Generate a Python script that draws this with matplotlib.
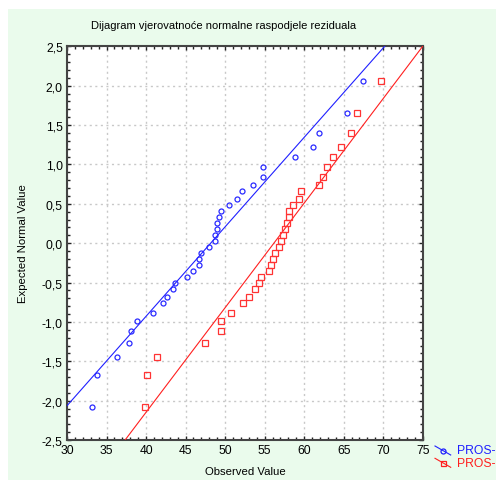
import matplotlib
matplotlib.use("Agg")
import matplotlib.pyplot as plt
from matplotlib.lines import Line2D
from matplotlib.patches import Rectangle
from matplotlib.ticker import MultipleLocator, FuncFormatter

plt.rcParams['font.family'] = ['Liberation Sans', 'DejaVu Sans']

title = "Dijagram vjerovatnoće normalne raspodjele reziduala"
xlabel = "Observed Value"
ylabel = "Expected Normal Value"
series_names = ["PROS-IS", "PROS-IS"]

expected = [-2.08, -1.67, -1.44, -1.27, -1.11, -0.99, -0.89, -0.76, -0.69, -0.58,
            -0.50, -0.43, -0.36, -0.28, -0.20, -0.13, -0.05, 0.03, 0.10, 0.18,
            0.26, 0.33, 0.41, 0.49, 0.56, 0.66, 0.74, 0.84, 0.97, 1.10,
            1.22, 1.40, 1.65, 2.06]

blue_obs = [33.2, 33.8, 36.3, 37.86, 38.07, 38.8, 40.9, 42.2, 42.7, 43.4,
            43.7, 45.2, 46.0, 46.7, 46.7, 47.0, 48.0, 48.76, 48.76, 49.0,
            49.0, 49.25, 49.5, 50.45, 51.46, 52.2, 53.5, 54.8, 54.8, 58.86,
            61.1, 61.9, 65.45, 67.5]

red_obs = [39.9, 40.14, 41.4, 47.45, 49.5, 49.5, 50.75, 52.27, 53.0, 53.8,
           54.3, 54.55, 55.57, 55.8, 56.07, 56.33, 56.83, 57.09, 57.34, 57.6,
           57.85, 58.1, 58.1, 58.6, 59.4, 59.6, 61.9, 62.4, 62.9, 63.7,
           64.7, 65.96, 66.7, 69.76]

# fitted lines: y = intercept + slope * x
blue_fit = (-2.065 - 0.1136 * 30, 0.1136)
red_fit = (-2.5 - 0.1328 * 37.35, 0.1328)

W, H = 496, 481
fig = plt.figure(figsize=(W / 100, H / 100), dpi=100)
fig.patch.set_facecolor('white')
fig.add_artist(Rectangle((8 / W, 0), 1, 1 - 10 / H, transform=fig.transFigure,
                         facecolor='#EAFBEC', edgecolor='none', zorder=-10))

ax = fig.add_axes([67 / W, 1 - 441 / H, (422.7 - 67) / W, (441 - 47.3) / H])
ax.set_xlim(30, 75)
ax.set_ylim(-2.5, 2.5)
ax.set_facecolor('white')

ax.xaxis.set_major_locator(MultipleLocator(5))
ax.xaxis.set_minor_locator(MultipleLocator(1))
ax.yaxis.set_major_locator(MultipleLocator(0.5))
ax.yaxis.set_minor_locator(MultipleLocator(0.1))
fmt = FuncFormatter(lambda v, p: ("%.1f" % v).replace('.', ',').replace('-0,0', '0,0'))
ax.yaxis.set_major_formatter(fmt)
ax.xaxis.set_major_formatter(FuncFormatter(lambda v, p: "%d" % v))

ax.tick_params(which='both', direction='in', top=True, right=True, labelsize=8.7,
               color='#222222', width=1.0, pad=3)
ax.tick_params(which='major', length=3)
ax.tick_params(which='minor', length=2.5)
for s in ax.spines.values():
    s.set_color('#444444')
    s.set_linewidth(1.5)

ax.grid(True, which='major', linestyle=(0, (1.5, 2.5)), color='#c8c8c8', linewidth=1.0)
ax.set_axisbelow(True)

xs = [30, 75]
ax.plot(xs, [blue_fit[0] + blue_fit[1] * x for x in xs], color='#1f1fff', lw=0.8, zorder=3)
ax.plot(xs, [red_fit[0] + red_fit[1] * x for x in xs], color='#ff1f1f', lw=0.8, zorder=3)
ax.plot(blue_obs, expected, linestyle='none', marker='o', ms=3.6, mfc='none',
        mec='#2a2aff', mew=0.9, zorder=4)
ax.plot(red_obs, expected, linestyle='none', marker='s', ms=4.0, mfc='none',
        mec='#ff3333', mew=0.9, zorder=4)

fig.text(223.5 / W, 1 - 26 / H, title, ha='center', va='center', fontsize=8.0)
fig.text(245 / W, 1 - 472 / H, xlabel, ha='center', va='center', fontsize=8.2)
fig.text(23 / W, 1 - 244 / H, ylabel, ha='center', va='center', fontsize=8.2, rotation=90)

# legend drawn manually
def leg(y0, color, marker, label):
    x0, x1 = 435, 450.7
    fig.add_artist(Line2D([x0 / W, (x0 + x1) / 2 / W, x1 / W],
                          [1 - (y0 - 4.5) / H, 1 - y0 / H, 1 - (y0 + 4.5) / H],
                          transform=fig.transFigure, color=color, lw=0.8,
                          marker=marker, markevery=[1], ms=3.6, mfc='none', mec=color, mew=0.9))
    fig.text(456.5 / W, 1 - y0 / H, label, color=color, fontsize=8.7, va='center', ha='left')

leg(451.5, '#1f1fff', 'o', series_names[0])
leg(463.8, '#ff1f1f', 's', series_names[1])

fig.savefig('out.png', dpi=100)
